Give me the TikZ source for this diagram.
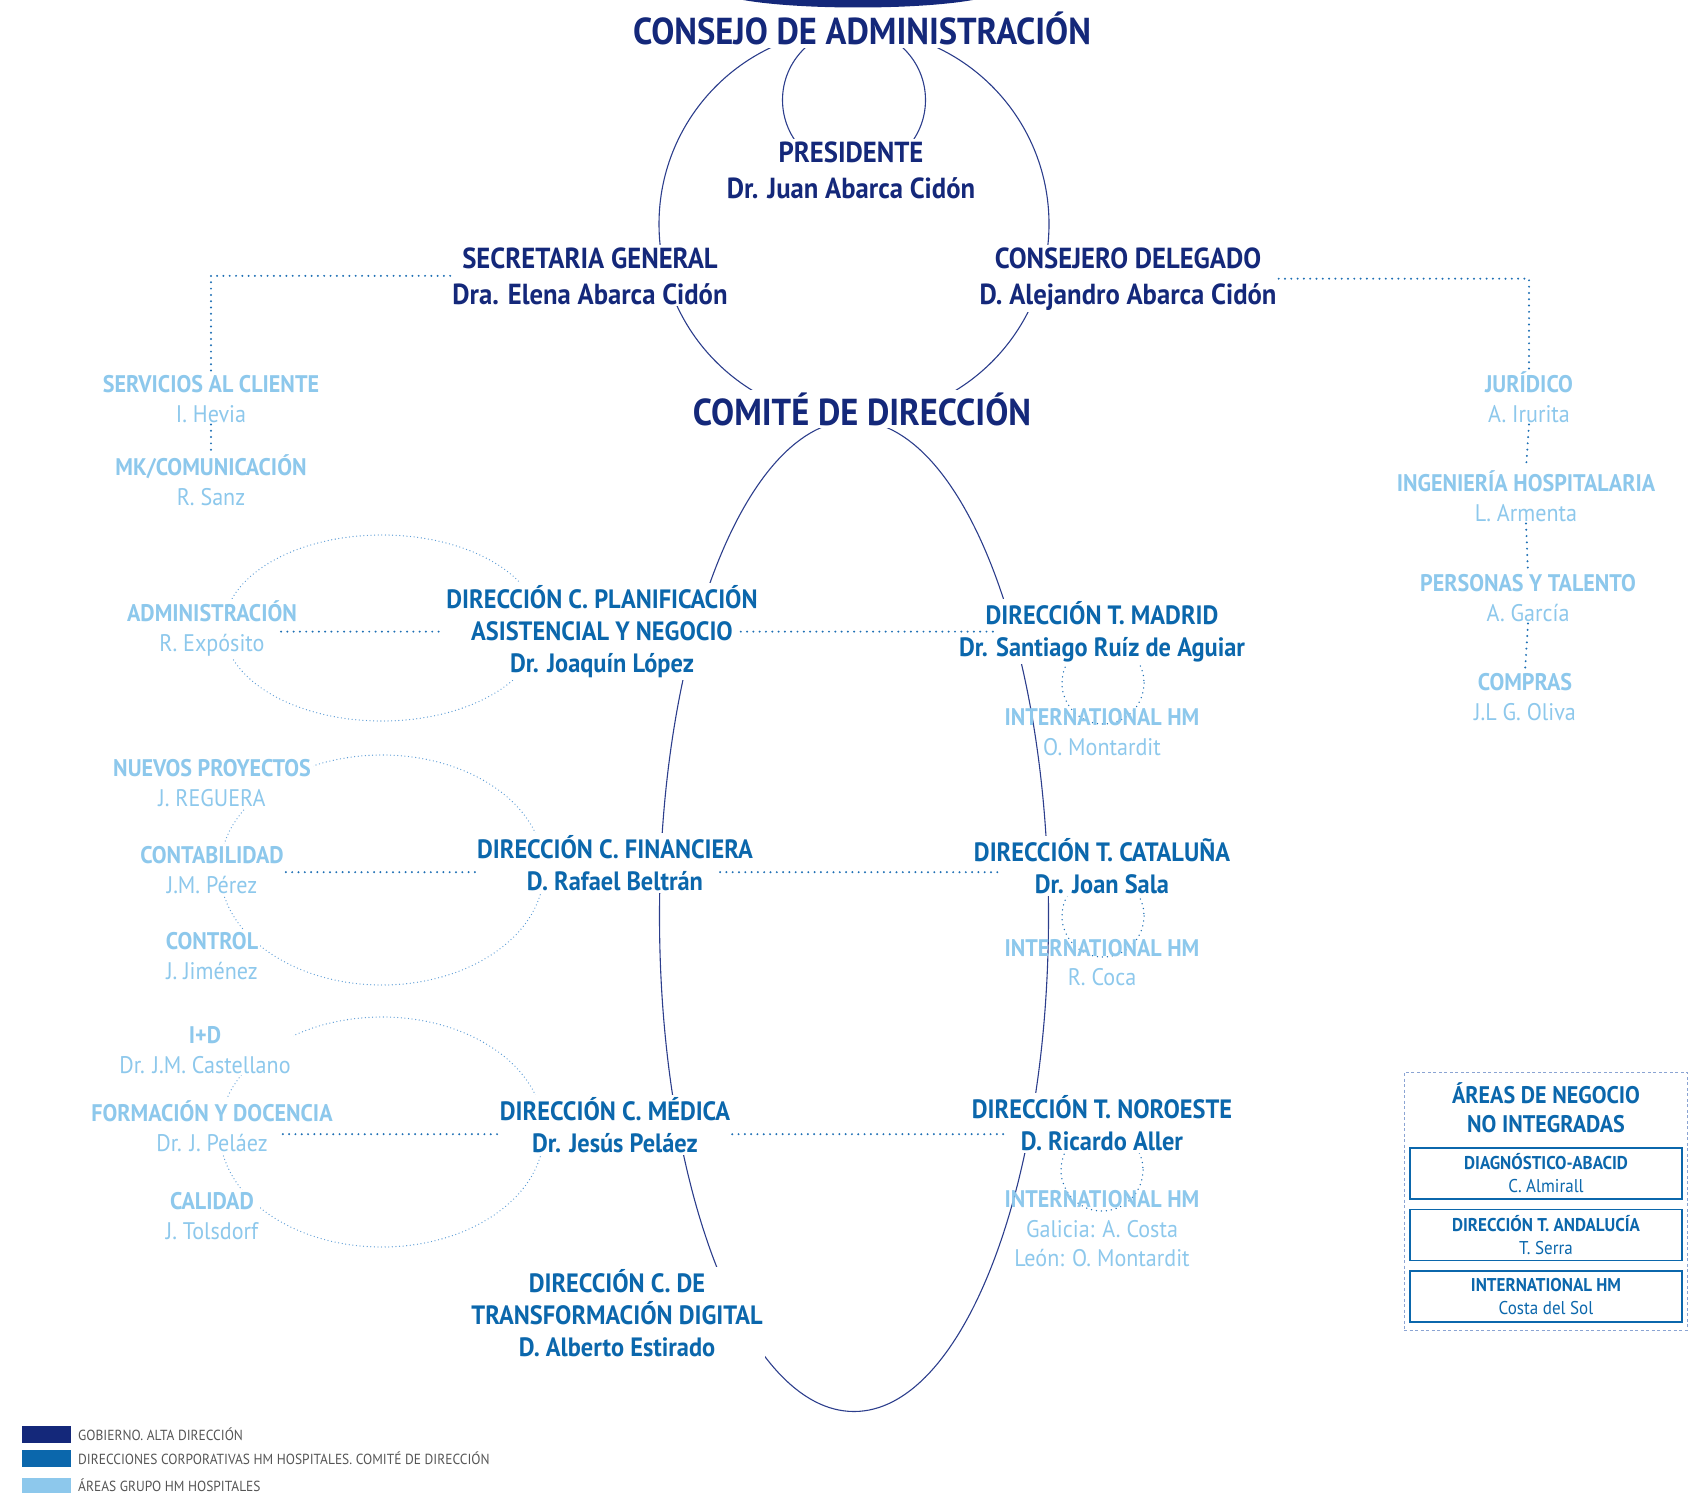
\documentclass[tikz,border=0pt]{standalone}
\usepackage{fontspec}
\setmainfont{PT Sans}[FakeStretch=0.92]
\usetikzlibrary{positioning}

\definecolor{govblue}{HTML}{14287A}
\definecolor{corpblue}{HTML}{0B67AC}
\definecolor{areablue}{HTML}{8DC8EC}
\definecolor{ringline}{HTML}{2C3E8C}
\definecolor{dotblue}{HTML}{1E6FB4}
\definecolor{ringdot}{HTML}{5B9BD5}
\definecolor{boxdash}{HTML}{8BA4D3}
\definecolor{legendgray}{HTML}{555555}

\tikzset{
  bigtitle/.style={text=govblue, font=\bfseries\fontsize{37.5}{40}\selectfont, fill=white, inner sep=2pt, anchor=base},
  govbox/.style={text=govblue, font=\bfseries\fontsize{29}{36}\selectfont, align=center, fill=white, inner sep=2pt, anchor=base},
  corpbox/.style={text=corpblue, font=\bfseries\fontsize{26.5}{32}\selectfont, align=center, fill=white, inner sep=2pt, anchor=base},
  areabox/.style={text=areablue, font=\fontsize{24}{29.5}\selectfont, align=center, fill=white, inner sep=2pt, anchor=base},
  intlbox/.style={areabox, fill=none},
  ring/.style={ringline, line width=1.1pt},
  dotring/.style={ringdot, line width=1.3pt, line cap=round, dash pattern=on 0pt off 3.6pt},
  smallring/.style={dotblue, line width=1.5pt, line cap=round, dash pattern=on 0pt off 5pt},
  dotline/.style={dotblue, line width=2.2pt, line cap=round, dash pattern=on 0pt off 6.3pt},
  lowdot/.style={dotline, transform canvas={yshift=-9pt}},
  negbox/.style={draw=corpblue, line width=1.3pt, text=corpblue, minimum width=272pt, minimum height=51pt, align=center, font=\fontsize{18.5}{23}\selectfont, inner sep=0pt},
  legendtext/.style={anchor=base west, text=legendgray, font=\fontsize{14.6}{15}\selectfont, inner sep=0pt},
}

\begin{document}
\begin{tikzpicture}[x=1pt, y=-1pt]
    \useasboundingbox (0,0) rectangle (1689,1493);

    % Draw the rings behind the names
    \coordinate (bigring) at (854,224);
    \coordinate (smallring) at (854,100);
    \coordinate (comitering) at (854,916);
    \draw[ring] (bigring) circle (195);
    \draw[ring] (smallring) circle (71.5);
    \draw[ring] (comitering) ellipse (194.5 and 495.5);

    % Draw the dotted rings of the areas
    \draw[dotring] (382,628) ellipse (158 and 93);
    \draw[dotring] (382,870) ellipse (162 and 115);
    \draw[dotring] (382,1132) ellipse (162 and 115);
    \draw[smallring] (1103,683) circle (41);
    \draw[smallring] (1103,916) circle (41);
    \draw[smallring] (1102,1170) circle (41);

    % Government
    \node[bigtitle] (consejo) at (862,45) {CONSEJO DE ADMINISTRACIÓN};
    \node[govbox] (presidente) at (851,198) {PRESIDENTE\\Dr. Juan Abarca Cidón};
    \node[govbox] (secretaria) at (590,304) {SECRETARIA GENERAL\\Dra. Elena Abarca Cidón};
    \node[govbox] (consejero) at (1128,304) {CONSEJERO DELEGADO\\D. Alejandro Abarca Cidón};
    \node[bigtitle] (comite) at (862,425) {COMITÉ DE DIRECCIÓN};
    \fill[govblue] (743,0) .. controls (800,10) and (916,10) .. (973,0) -- cycle;

    % Corporate directions
    \node[corpbox] (planif) at (602,672.5) {DIRECCIÓN C. PLANIFICACIÓN\\ASISTENCIAL Y NEGOCIO\\Dr. Joaquín López};
    \node[corpbox] (financiera) at (615,890.5) {DIRECCIÓN C. FINANCIERA\\D. Rafael Beltrán};
    \node[corpbox] (medica) at (615,1152.5) {DIRECCIÓN C. MÉDICA\\Dr. Jesús Peláez};
    \node[corpbox] (digital) at (617,1356) {DIRECCIÓN C. DE\\TRANSFORMACIÓN DIGITAL\\D. Alberto Estirado};
    \node[corpbox] (madrid) at (1102,656.5) {DIRECCIÓN T. MADRID\\Dr. Santiago Ruíz de Aguiar};
    \node[corpbox] (cataluna) at (1102,893.5) {DIRECCIÓN T. CATALUÑA\\Dr. Joan Sala};
    \node[corpbox] (noroeste) at (1102,1150.5) {DIRECCIÓN T. NOROESTE\\D. Ricardo Aller};

    \node[intlbox] (madridhm) at (1102,755) {\textbf{INTERNATIONAL HM}\\O. Montardit};
    \node[intlbox] (catalunahm) at (1102,985.5) {\textbf{INTERNATIONAL HM}\\R. Coca};
    \node[intlbox] (noroestehm) at (1102,1266.5) {\textbf{INTERNATIONAL HM}\\Galicia: A. Costa\\León: O. Montardit};

    % Group areas
    \node[areabox] (servicios) at (211,422) {\textbf{SERVICIOS AL CLIENTE}\\I. Hevia};
    \node[areabox] (mkcom) at (211,505) {\textbf{MK/COMUNICACIÓN}\\R. Sanz};
    \node[areabox] (juridico) at (1529,422) {\textbf{JURÍDICO}\\A. Irurita};
    \node[areabox] (ingenieria) at (1526,521) {\textbf{INGENIERÍA HOSPITALARIA}\\L. Armenta};
    \node[areabox] (personas) at (1528,621) {\textbf{PERSONAS Y TALENTO}\\A. García};
    \node[areabox] (compras) at (1525,720) {\textbf{COMPRAS}\\J.L G. Oliva};
    \node[areabox] (admin) at (212,651) {\textbf{ADMINISTRACIÓN}\\R. Expósito};
    \node[areabox] (nuevos) at (212,806) {\textbf{NUEVOS PROYECTOS}\\J. REGUERA};
    \node[areabox] (contab) at (212,893) {\textbf{CONTABILIDAD}\\J.M. Pérez};
    \node[areabox] (control) at (212,979) {\textbf{CONTROL}\\J. Jiménez};
    \node[areabox] (imasd) at (205,1073) {\textbf{I+D}\\Dr. J.M. Castellano};
    \node[areabox] (formacion) at (212,1151) {\textbf{FORMACIÓN Y DOCENCIA}\\Dr. J. Peláez};
    \node[areabox] (calidad) at (212,1239) {\textbf{CALIDAD}\\J. Tolsdorf};

    % Dotted links
    \draw[dotline] (secretaria.west) -| (servicios.north);
    \draw[dotline] (servicios.south) -- (mkcom.north);
    \draw[dotline] (consejero.east) -| (juridico.north);
    \draw[dotline] (juridico.south) -- (ingenieria.north);
    \draw[dotline] (ingenieria.south) -- (personas.north);
    \draw[dotline] (personas.south) -- (compras.north);
    \draw[dotline, shorten <=-18pt] (planif.west -| admin.east) -- (planif.west);
    \draw[dotline, shorten <=-19pt, shorten >=-40pt] (planif.east) -- (planif.east -| madrid.west);
    \draw[lowdot] (financiera.west -| contab.east) -- (financiera.west);
    \draw[lowdot, shorten <=-35pt, shorten >=-30pt] (financiera.east) -- (financiera.east -| cataluna.west);
    \draw[lowdot, shorten <=-52pt] (medica.west -| formacion.east) -- (medica.west);
    \draw[lowdot, shorten >=-35pt] (medica.east) -- (medica.east -| noroeste.west);

    % Business areas not integrated
    \node[draw=boxdash, line width=1pt, dash pattern=on 3pt off 2.5pt, minimum width=283pt, minimum height=258pt] (negocio) at (1545.5,1201) {};
    \node[corpbox, font=\bfseries\fontsize{24}{29}\selectfont] (negtitle) at (1546,1132) {ÁREAS DE NEGOCIO\\NO INTEGRADAS};
    \node[negbox] (abacid) at (1546,1173.5) {\textbf{DIAGNÓSTICO-ABACID}\\C. Almirall};
    \node[negbox] (andalucia) at (1546,1235) {\textbf{DIRECCIÓN T. ANDALUCÍA}\\T. Serra};
    \node[negbox] (costasol) at (1546,1296.5) {\textbf{INTERNATIONAL HM}\\Costa del Sol};

    % Legend
    \fill[govblue] (22,1426) rectangle (71,1443);
    \fill[corpblue] (22,1450) rectangle (71,1467);
    \fill[areablue] (22,1478) rectangle (71,1495);
    \node[legendtext] (leggov) at (78,1440) {GOBIERNO. ALTA DIRECCIÓN};
    \node[legendtext] (legcorp) at (78,1464) {DIRECCIONES CORPORATIVAS HM HOSPITALES. COMITÉ DE DIRECCIÓN};
    \node[legendtext] (legarea) at (78,1491) {ÁREAS GRUPO HM HOSPITALES};
\end{tikzpicture}
\end{document}
